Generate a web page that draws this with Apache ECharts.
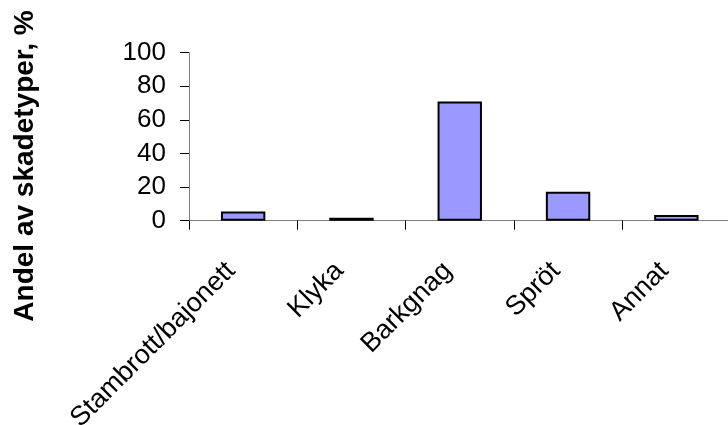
<!DOCTYPE html>
<html><head><meta charset="utf-8">
<script src="https://cdn.jsdelivr.net/npm/echarts@6/dist/echarts.min.js"></script>
<style>html,body{margin:0;padding:0;background:#fff}#c{width:728px;height:425px}</style>
</head><body><div id="c"></div>
<script>
var categories = ['Stambrott/bajonett', 'Klyka', 'Barkgnag', 'Spröt', 'Annat'];
var values = [5.5, 1.8, 71, 17.3, 3.4];
var yTitle = 'Andel av skadetyper, %';

var chart = echarts.init(document.getElementById('c'));
chart.setOption({
  animation: false,
  textStyle: {fontFamily: 'Liberation Sans'},
  grid: {left: 189, top: 52.7, width: 541.5, height: 168, containLabel: false, outerBoundsMode: 'none'},
  graphic: [{
    type: 'text', x: 25, y: 166, rotation: Math.PI / 2,
    style: {text: yTitle, fontSize: 28, fontWeight: 'bold', fontFamily: 'Liberation Sans', fill: '#000',
            align: 'center', verticalAlign: 'middle'}
  }],
  xAxis: {
    type: 'category', data: categories,
    axisLine: {lineStyle: {color: '#808080', width: 1}},
    axisTick: {show: true, length: 9, lineStyle: {color: '#000'}},
    axisLabel: {rotate: 45, margin: 34, padding: [0, 17, 0, 0], fontSize: 27, color: '#000', interval: 0, fontFamily: 'Liberation Sans'}
  },
  yAxis: {
    type: 'value', min: 0, max: 100, interval: 20,
    axisLine: {show: true, lineStyle: {color: '#808080', width: 1}},
    axisTick: {show: true, length: 9, lineStyle: {color: '#000'}},
    axisLabel: {fontSize: 26, color: '#000', margin: 23, fontFamily: 'Liberation Sans'},
    splitLine: {show: false}
  },
  series: [{
    type: 'bar', data: values, barWidth: '41%',
    itemStyle: {color: '#9999FF', borderColor: '#000', borderWidth: 2}
  }]
});
</script></body></html>
